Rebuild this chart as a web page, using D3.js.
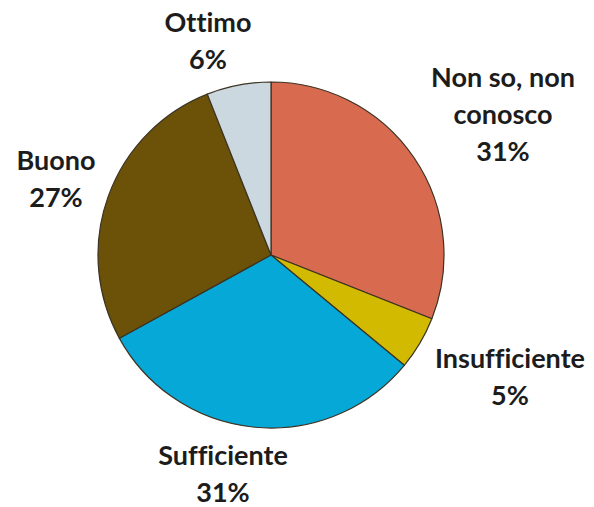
<!DOCTYPE html>
<html>
<head>
<meta charset="utf-8">
<script src="https://cdn.jsdelivr.net/npm/d3@7"></script>
<style>
  html, body { margin: 0; padding: 0; background: #ffffff; }
  svg { display: block; }
  text { font-variant-ligatures: none; font-feature-settings: "liga" 0; }
</style>
</head>
<body>
<svg id="chart" width="594" height="507"></svg>
<script>
// ---- data ----
const categories = ["Non so, non conosco", "Insufficiente", "Sufficiente", "Buono", "Ottimo"];
const values = [31, 5, 31, 27, 6];
const colors = ["#D86A50", "#D2BA00", "#05A8D7", "#6C5109", "#CCD8E0"];
const labelLines = [["Non so, non", "conosco"], ["Insufficiente"], ["Sufficiente"], ["Buono"], ["Ottimo"]];

// ---- layout ----
const W = 594, H = 507;
const cx = 271, cy = 255, R = 173;
// label block offsets (x centre, mean baseline) from the pie centre (Excel-style placement)
const labelOffsets = [[232, -131], [239, 131], [-48, 228], [-215, -67], [-63, -205]];
const lineH = 37;

const svg = d3.select("#chart");
const g = svg.append("g").attr("transform", `translate(${cx},${cy})`);

const pie = d3.pie().sort(null).value(d => d.v);
const arc = d3.arc().innerRadius(0).outerRadius(R);
const data = categories.map((c, i) => ({ c, v: values[i], i }));
const arcs = pie(data);

g.selectAll("path.slice")
  .data(arcs)
  .enter().append("path")
  .attr("class", "slice")
  .attr("d", arc)
  .attr("fill", d => colors[d.data.i])
  .attr("stroke", "#3b3323")
  .attr("stroke-width", 1.2)
  .attr("stroke-linejoin", "round");

const fmt = v => v + "%";
const labels = g.selectAll("text.lbl")
  .data(arcs)
  .enter().append("text")
  .attr("class", "lbl")
  .attr("text-anchor", "middle")
  .attr("font-family", "Lato, 'Open Sans', sans-serif")
  .attr("font-weight", "bold")
  .attr("font-size", 27)
  .attr("fill", "#1c1c1c");

labels.each(function(d) {
  const i = d.data.i;
  const lines = labelLines[i].concat([fmt(d.data.v)]);
  const [ox, oy] = labelOffsets[i];
  const n = lines.length;
  const firstBaseline = oy - ((n - 1) * lineH) / 2;
  const t = d3.select(this);
  lines.forEach((ln, k) => {
    t.append("tspan")
      .attr("x", ox)
      .attr("y", firstBaseline + k * lineH)
      .text(ln);
  });
});
</script>
</body>
</html>
